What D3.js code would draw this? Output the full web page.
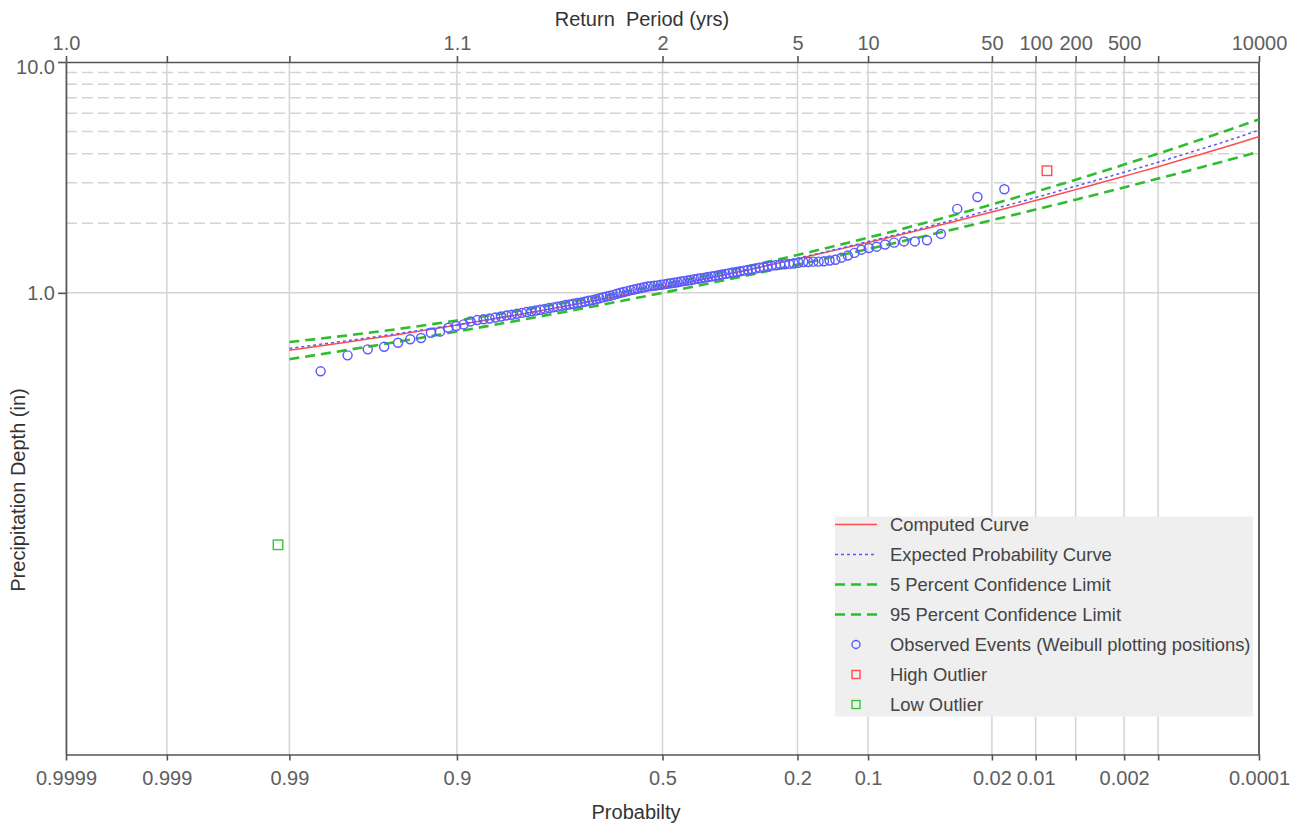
<!DOCTYPE html>
<html><head><meta charset="utf-8">
<script src="https://cdn.jsdelivr.net/npm/d3@7"></script>
<style>
body{margin:0;background:#fff;}
svg{display:block;font-family:Arial,"Liberation Sans",sans-serif;}
</style></head><body>
<svg id="chart" width="1301" height="826"></svg>
<script>
// ---------------- data ----------------
const curveProbs = [0.99,0.95,0.9,0.8,0.7,0.5,0.3,0.2,0.1,0.05,0.02,0.01,0.005,0.002,0.001,0.0005,0.0002,0.0001];
const computedCurve = [0.564,0.660,0.725,0.817,0.897,1.054,1.254,1.403,1.651,1.899,2.239,2.51,2.80,3.20,3.52,3.865,4.35,4.75];
const expectedCurve = [0.574,0.667,0.728,0.819,0.897,1.054,1.258,1.411,1.667,1.927,2.296,2.587,2.897,3.33,3.68,4.06,4.60,5.07];
const conf5Curve    = [0.612,0.698,0.759,0.848,0.926,1.087,1.299,1.459,1.733,2.016,2.415,2.741,3.09,3.595,4.01,4.457,5.105,5.64];
const conf95Curve   = [0.516,0.615,0.680,0.772,0.849,1.000,1.188,1.325,1.548,1.768,2.064,2.294,2.533,2.862,3.125,3.40,3.78,4.09];

const observedDepths = [2.81,2.60,2.31,1.80,1.69,1.67,1.67,1.65,1.62,1.585,1.565,1.538,1.49,1.45,1.42,1.39,1.38,1.37,1.365,1.365,
 1.36,1.36,1.35,1.34,1.335,1.329,1.325,1.317,1.312,1.304,1.292,1.284,1.273,1.265,1.256,1.248,1.240,1.232,1.224,1.216,
 1.208,1.201,1.192,1.184,1.177,1.171,1.164,1.157,1.150,1.144,1.137,1.130,1.124,1.119,1.112,1.106,1.100,1.094,1.088,1.083,
 1.077,1.073,1.069,1.065,1.057,1.049,1.042,1.033,1.027,1.017,1.008,1.000,0.991,0.980,0.972,0.964,0.956,0.947,0.938,0.930,
 0.924,0.915,0.908,0.903,0.897,0.890,0.885,0.878,0.871,0.865,0.859,0.852,0.845,0.839,0.832,0.826,0.819,0.812,0.804,0.798,
 0.790,0.782,0.774,0.768,0.762,0.752,0.730,0.718,0.706,0.679,0.672,0.637,0.629,0.608,0.584,0.569,0.536,0.457];
const highOutliers = [3.38];
const lowOutliers = [0.081];

const probTicks = [0.9999,0.999,0.99,0.9,0.5,0.2,0.1,0.02,0.01,0.005,0.002,0.001,0.0001];
const probabilityLabels = ["0.9999","0.999","0.99","0.9","0.5","0.2","0.1","0.02","0.01","","0.002","","0.0001"];
const returnPeriodLabels = ["1.0","","","1.1","2","5","10","50","100","200","500","","10000"];
const depthTicks = [1,10];
const depthLabels = ["1.0","10.0"];
const depthDashedGrid = [2,3,4,5,6,7,8,9];

const legendItems = [
  {label:"Computed Curve", type:"line", color:"#ff4d4d", dash:null, width:1.5},
  {label:"Expected Probability Curve", type:"line", color:"#5a5aee", dash:"3,3", width:1.5},
  {label:"5 Percent Confidence Limit", type:"line", color:"#2ebd2e", dash:"10,6", width:2.6},
  {label:"95 Percent Confidence Limit", type:"line", color:"#2ebd2e", dash:"10,6", width:2.6},
  {label:"Observed Events (Weibull plotting positions)", type:"circle", color:"#5a5aff"},
  {label:"High Outlier", type:"square", color:"#ff4d4d"},
  {label:"Low Outlier", type:"square", color:"#33c633"}
];

// ---------------- helpers ----------------
function qnorm(p){ // Acklam inverse normal CDF
  const a=[-3.969683028665376e+01,2.209460984245205e+02,-2.759285104469687e+02,1.383577518672690e+02,-3.066479806614716e+01,2.506628277459239e+00];
  const b=[-5.447609879822406e+01,1.615858368580409e+02,-1.556989798598866e+02,6.680131188771972e+01,-1.328068155288572e+01];
  const c=[-7.784894002430293e-03,-3.223964580411365e-01,-2.400758277161838e+00,-2.549732539343734e+00,4.374664141464968e+00,2.938163982698783e+00];
  const d=[7.784695709041462e-03,3.224671290700398e-01,2.445134137142996e+00,3.754408661907416e+00];
  const pl=0.02425, ph=1-pl; let q,r;
  if(p<pl){q=Math.sqrt(-2*Math.log(p));return (((((c[0]*q+c[1])*q+c[2])*q+c[3])*q+c[4])*q+c[5])/((((d[0]*q+d[1])*q+d[2])*q+d[3])*q+1);}
  if(p<=ph){q=p-0.5;r=q*q;return (((((a[0]*r+a[1])*r+a[2])*r+a[3])*r+a[4])*r+a[5])*q/(((((b[0]*r+b[1])*r+b[2])*r+b[3])*r+b[4])*r+1);}
  q=Math.sqrt(-2*Math.log(1-p));return -(((((c[0]*q+c[1])*q+c[2])*q+c[3])*q+c[4])*q+c[5])/((((d[0]*q+d[1])*q+d[2])*q+d[3])*q+1);
}
const zOf = p => qnorm(1-p); // exceedance probability -> normal deviate

const L=66, R=1259, T=62, B=754.5;
const svg = d3.select("#chart");
const xz = d3.scaleLinear().domain([zOf(0.9999), zOf(0.0001)]).range([L,R]);
const x = p => xz(zOf(p));
const y = d3.scaleLog().domain([0.01,10]).range([B,T]);

// ---------------- grid ----------------
const grid = svg.append("g");
grid.selectAll("line.v").data(probTicks).join("line")
  .attr("x1",d=>x(d)).attr("x2",d=>x(d)).attr("y1",T).attr("y2",B)
  .attr("stroke","#d4d4d4").attr("stroke-width",1.5);
grid.selectAll("line.hd").data(depthDashedGrid).join("line")
  .attr("x1",L).attr("x2",R).attr("y1",d=>y(d)).attr("y2",d=>y(d))
  .attr("stroke","#d4d4d4").attr("stroke-width",1.5).attr("stroke-dasharray","11,5");
grid.append("line").attr("x1",L).attr("x2",R).attr("y1",y(1)).attr("y2",y(1))
  .attr("stroke","#d4d4d4").attr("stroke-width",1.5);

// ---------------- axes ----------------
const tickZ = probTicks.map(zOf);
function styleAxis(g){
  g.select(".domain").attr("stroke","#555").attr("stroke-width",1.6);
  g.selectAll(".tick line").attr("stroke","#555").attr("stroke-width",1.6);
  g.selectAll(".tick text").attr("fill","#5e5e5e").style("font-size","20px").style("font-family","Arial,'Liberation Sans',sans-serif");
}
svg.append("g").attr("transform",`translate(0,${B})`)
  .call(d3.axisBottom(xz).tickValues(tickZ).tickFormat((d,i)=>probabilityLabels[i]).tickSize(6).tickSizeOuter(0).tickPadding(10))
  .call(styleAxis);
svg.append("g").attr("transform",`translate(0,${T})`)
  .call(d3.axisTop(xz).tickValues(tickZ).tickFormat((d,i)=>returnPeriodLabels[i]).tickSize(6).tickSizeOuter(0).tickPadding(6))
  .call(styleAxis);
const yAxisG = svg.append("g").attr("transform",`translate(${L},0)`)
  .call(d3.axisLeft(y).tickValues(depthTicks).tickFormat((d,i)=>depthLabels[i]).tickSize(8).tickSizeOuter(0).tickPadding(3))
  .call(styleAxis);
yAxisG.selectAll(".tick text").filter(d=>d===10).attr("dy","0.55em");
// right frame
svg.append("line").attr("x1",R).attr("x2",R).attr("y1",T).attr("y2",B).attr("stroke","#555").attr("stroke-width",1.8);

// axis titles
svg.append("text").attr("x",642).attr("y",26).attr("text-anchor","middle")
  .attr("fill","#333").style("font-size","20px").style("white-space","pre").text("Return  Period (yrs)");
svg.append("text").attr("x",636).attr("y",819).attr("text-anchor","middle")
  .attr("fill","#333").style("font-size","20px").text("Probabilty");
svg.append("text").attr("transform","translate(25,490) rotate(-90)").attr("text-anchor","middle")
  .attr("fill","#333").style("font-size","20px").text("Precipitation Depth (in)");

// ---------------- curves ----------------
const line = d3.line().x(d=>x(d[0])).y(d=>y(d[1])).curve(d3.curveMonotoneX);
const curves = [
  {vals:conf5Curve, color:"#2ebd2e", dash:"10,6", w:2.6},
  {vals:conf95Curve, color:"#2ebd2e", dash:"10,6", w:2.6},
  {vals:computedCurve, color:"#ff4d4d", dash:null, w:1.5},
  {vals:expectedCurve, color:"#5a5aee", dash:"3,3", w:1.5}
];
svg.append("g").selectAll("path").data(curves).join("path")
  .attr("d",c=>line(curveProbs.map((p,i)=>[p,c.vals[i]])))
  .attr("fill","none").attr("stroke",c=>c.color).attr("stroke-width",c=>c.w)
  .attr("stroke-dasharray",c=>c.dash);

// ---------------- observed events (Weibull positions) ----------------
const all = observedDepths.map(v=>({v,type:"obs"}))
  .concat(highOutliers.map(v=>({v,type:"high"})), lowOutliers.map(v=>({v,type:"low"})))
  .sort((a,b)=>b.v-a.v);
const n = all.length;
all.forEach((d,i)=>{ d.p = (i+1)/(n+1); });
svg.append("g").selectAll("circle").data(all.filter(d=>d.type==="obs")).join("circle")
  .attr("cx",d=>x(d.p)).attr("cy",d=>y(d.v)).attr("r",4.5)
  .attr("fill","none").attr("stroke","#5a5aff").attr("stroke-width",1.45);
const sq = 9.5;
svg.append("g").selectAll("rect").data(all.filter(d=>d.type!=="obs")).join("rect")
  .attr("x",d=>x(d.p)-sq/2).attr("y",d=>y(d.v)-sq/2).attr("width",sq).attr("height",sq)
  .attr("fill","none").attr("stroke",d=>d.type==="high"?"#ff4d4d":"#33c633").attr("stroke-width",1.4);

// ---------------- legend ----------------
const lg = svg.append("g");
lg.append("rect").attr("x",835).attr("y",516.5).attr("width",418).attr("height",200).attr("fill","#efefef");
const rows = lg.selectAll("g.row").data(legendItems).join("g")
  .attr("transform",(d,i)=>`translate(0,${524.5+i*30})`);
rows.filter(d=>d.type==="line").append("line")
  .attr("x1",835).attr("x2",877).attr("y1",0).attr("y2",0)
  .attr("stroke",d=>d.color).attr("stroke-width",d=>d.width).attr("stroke-dasharray",d=>d.dash);
rows.filter(d=>d.type==="circle").append("circle").attr("cx",856).attr("cy",0).attr("r",4)
  .attr("fill","none").attr("stroke",d=>d.color).attr("stroke-width",1.4);
rows.filter(d=>d.type==="square").append("rect").attr("x",852).attr("y",-4).attr("width",8).attr("height",8)
  .attr("fill","none").attr("stroke",d=>d.color).attr("stroke-width",1.4);
rows.append("text").attr("x",890).attr("y",0).attr("dy","0.35em")
  .attr("fill","#444").style("font-size","18.4px").text(d=>d.label);
</script>
</body></html>
